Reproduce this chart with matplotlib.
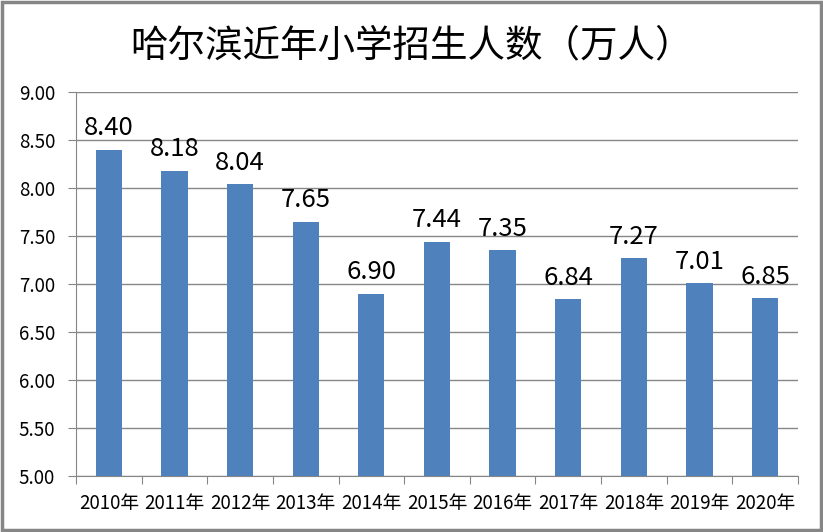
import matplotlib.pyplot as plt
import numpy as np
from matplotlib.patches import Rectangle

plt.rcParams['font.family'] = ['Noto Sans CJK SC', 'DejaVu Sans']

years = ["2010年", "2011年", "2012年", "2013年", "2014年", "2015年",
         "2016年", "2017年", "2018年", "2019年", "2020年"]
values = [8.40, 8.18, 8.04, 7.65, 6.90, 7.44, 7.35, 6.84, 7.27, 7.01, 6.85]
yticks = [5.0, 5.5, 6.0, 6.5, 7.0, 7.5, 8.0, 8.5, 9.0]
title = "哈尔滨近年小学招生人数（万人）"

fig = plt.figure(figsize=(8.23, 5.32), dpi=100)
ax = fig.add_axes([0.0923, 0.1053, 0.8773, 0.7217])

grey = "#868686"
x = np.arange(len(years))
ax.bar(x, values, width=0.4, color="#4f81bd", zorder=3)
for xi, v in zip(x, values):
    ax.annotate("%.2f" % v, (xi, v), xytext=(0, 6), textcoords="offset points",
                ha="center", va="bottom", fontsize=18.5)

ax.set_xlim(-0.5, len(years) - 0.5)
ax.set_ylim(5, 9)
ax.set_yticks(yticks)
ax.set_yticklabels(["%.2f" % t for t in yticks], fontsize=13.5)
ax.yaxis.grid(True, color=grey, linewidth=1, zorder=0)

# category boundaries get the tick marks, labels sit in between
ax.set_xticks(np.arange(len(years) + 1) - 0.5, minor=False)
ax.set_xticklabels([])
ax.set_xticks(x, minor=True)
ax.set_xticklabels(years, minor=True, fontsize=13.5)
ax.tick_params(axis="x", which="minor", length=0, pad=12)
ax.tick_params(axis="x", which="major", length=6, color=grey)
ax.tick_params(axis="y", length=6, color=grey, pad=9)

for s in ["top", "right"]:
    ax.spines[s].set_visible(False)
for s in ["left", "bottom"]:
    ax.spines[s].set_color(grey)

fig.text(0.5, 0.913, title, ha="center", va="center", fontsize=27)
fig.patches.append(Rectangle((0.002, 0.003), 0.995, 0.993, transform=fig.transFigure,
                             fill=False, edgecolor=grey, linewidth=2.5))

fig.savefig("out.png", dpi=100)
